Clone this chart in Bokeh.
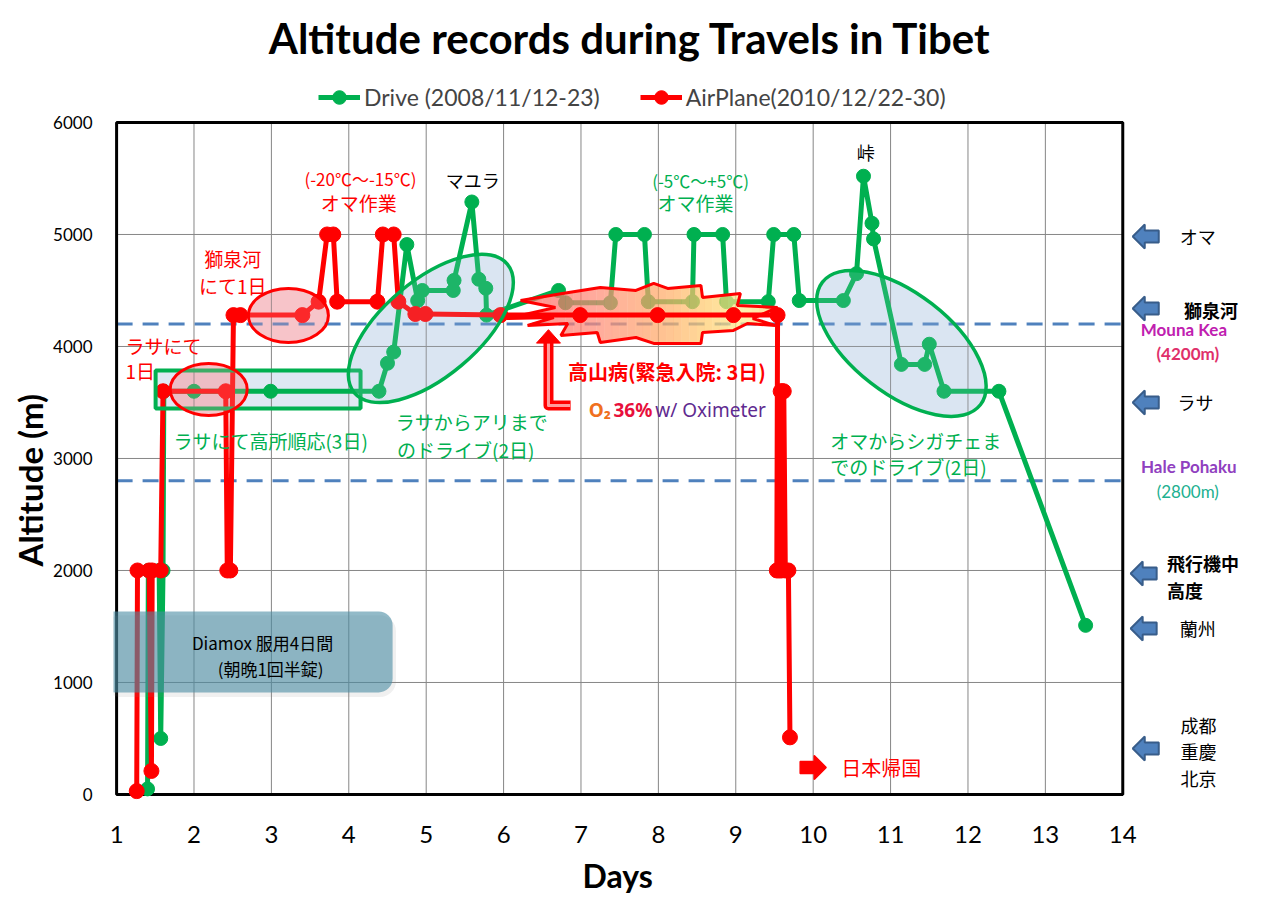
from bokeh.plotting import figure
from bokeh.models import Range1d, FixedTicker, Legend, LegendItem, Title
from bokeh.core.properties import value
from bokeh.embed import file_html
from bokeh.resources import INLINE

# ---------------- data ----------------
drive_day = [1.40, 1.41, 1.55, 1.57, 1.60, 1.61, 2.00, 2.99, 4.39, 4.50, 4.58, 4.75, 4.89, 4.95,
             5.35, 5.36, 5.59, 5.68, 5.77, 5.78, 6.71, 6.80, 7.38, 7.45, 7.82, 7.87, 8.44, 8.46,
             8.83, 8.88, 9.42, 9.49, 9.75, 9.82, 10.39, 10.56, 10.65, 10.76, 10.78, 11.14,
             11.44, 11.50, 11.69, 12.40, 13.52]
drive_alt = [50, 2000, 2000, 500, 2000, 3600, 3600, 3600, 3600, 3850, 3950, 4910, 4410, 4500,
             4500, 4590, 5290, 4600, 4520, 4280, 4500, 4390, 4390, 5000, 5000, 4400, 4400, 5000,
             5000, 4400, 4400, 5000, 5000, 4410, 4410, 4650, 5520, 5100, 4960, 3840,
             3840, 4020, 3600, 3600, 1510]

air_day = [1.26, 1.27, 1.42, 1.45, 1.46, 1.57, 1.60, 2.41, 2.43, 2.47, 2.51, 2.60, 3.40, 3.61,
           3.72, 3.80, 3.85, 4.37, 4.44, 4.58, 4.64, 4.86, 4.99, 5.96, 6.99, 7.99, 8.97, 9.54,
           9.53, 9.58, 9.56, 9.60, 9.59, 9.62, 9.64, 9.68, 9.70]
air_alt = [30, 2000, 2000, 210, 2000, 2000, 3600, 3600, 2000, 2000, 4280, 4280, 4280, 4400,
           5000, 5000, 4400, 4400, 5000, 5000, 4400, 4290, 4290, 4280, 4280, 4280, 4280, 4280,
           2000, 3600, 2000, 3600, 2000, 3600, 2000, 2000, 510]

x_ticks = list(range(1, 15))
y_ticks = [0, 1000, 2000, 3000, 4000, 5000, 6000]
ref_alts = [4200, 2800]

GREEN = "#00b050"
RED = "#ff0000"
JP = value("Noto Sans CJK JP")
LATO = value("Lato")

PX = 1 / 77.4      # days per screen pixel
PY = 1 / 0.112     # metres per screen pixel

p = figure(width=1254, height=903,
           x_range=Range1d(0.96, 15.702), y_range=Range1d(-152, 7089),
           output_backend="svg", toolbar_location=None,
           min_border_left=113, min_border_right=0, min_border_top=0, min_border_bottom=92)
p.outline_line_color = None
p.background_fill_color = "white"
p.xgrid.visible = False
p.ygrid.visible = False

# axes
p.xaxis.ticker = FixedTicker(ticks=x_ticks)
p.xaxis.bounds = (1, 14)
p.yaxis.ticker = FixedTicker(ticks=y_ticks)
p.yaxis.bounds = (0, 6000)
for ax in (p.xaxis, p.yaxis):
    ax.axis_line_color = None
    ax.major_tick_line_color = None
    ax.minor_tick_line_color = None
    ax.major_label_text_font = "Lato"
    ax.major_label_text_color = "black"
p.xaxis.major_label_text_font_size = "24px"
p.yaxis.major_label_text_font_size = "17px"
p.xaxis.major_label_standoff = 8
p.yaxis.major_label_standoff = 15

p.add_layout(Title(text="Altitude (m)", align="left", offset=245, standoff=2, text_font="Lato",
                   text_font_size="33px", text_font_style="bold", text_color="black"), "left")
p.add_layout(Title(text="Days", align="left", offset=469, standoff=16, text_font="Lato",
                   text_font_size="32px", text_font_style="bold", text_color="black"), "below")

# ---------------- background shapes (fills under the data) ----------------
p.quad(left=1.504, right=4.152, bottom=3446, top=3786, fill_color="#dce6f2", fill_alpha=0.9,
       line_color=None)
p.ellipse(x=[5.06, 11.14], y=[4161, 4027], width=[200, 200], height=[96, 100], angle=[0.70, -0.66],
          width_units="screen", height_units="screen",
          fill_color="#dce6f2", fill_alpha=0.9, line_color=None)
p.ellipse(x=[2.19, 3.22], y=[3616, 4277], width=[77, 80], height=[52, 54], angle=0,
          width_units="screen", height_units="screen",
          fill_color="#f4b0b8", fill_alpha=0.6, line_color=None)

# grid lines (inside the plot box only)
p.segment(x0=x_ticks[1:-1], x1=x_ticks[1:-1], y0=0, y1=6000, line_color="#868686", line_width=1)
p.segment(x0=1, x1=14, y0=y_ticks[1:-1], y1=y_ticks[1:-1], line_color="#868686", line_width=1)

# reference altitudes (Mauna Kea / Hale Pohaku)
p.segment(x0=1, x1=14, y0=ref_alts, y1=ref_alts, line_color="#4f81bd", line_width=3, line_dash="16 10")

# plot box
p.quad(left=1, right=14, bottom=0, top=6000, fill_alpha=0, line_color="black", line_width=3)

# drive series
gl = p.line(drive_day, drive_alt, line_color=GREEN, line_width=5)
gs = p.scatter(drive_day, drive_alt, size=14, marker="circle", color=GREEN)

# explosion (altitude sickness) with a left-to-right colour gradient
burst = [(6.04, 4250), (6.67, 4348), (6.22, 4411), (6.76, 4473), (7.25, 4527), (7.71, 4500),
         (7.94, 4563), (8.12, 4518), (8.55, 4545), (8.57, 4438), (9.06, 4473), (9.02, 4366),
         (9.54, 4348), (9.22, 4250), (9.51, 4188), (9.15, 4205), (8.97, 4143), (8.57, 4125),
         (8.55, 4027), (7.94, 4027), (7.71, 4080), (7.25, 4036), (7.21, 4125), (6.74, 4098),
         (6.83, 4205), (6.31, 4188), (6.65, 4259)]


def clip_half(poly, x0, keep_greater):
    out = []
    n = len(poly)
    for i in range(n):
        a, b = poly[i], poly[(i + 1) % n]
        ina = (a[0] >= x0) if keep_greater else (a[0] <= x0)
        inb = (b[0] >= x0) if keep_greater else (b[0] <= x0)
        if ina:
            out.append(a)
        if ina != inb:
            t = (x0 - a[0]) / (b[0] - a[0])
            out.append((x0, a[1] + t * (b[1] - a[1])))
    return out


stops = [(6.0, (255, 90, 90)), (7.2, (255, 140, 120)), (8.0, (255, 168, 104)),
         (8.7, (255, 208, 112)), (9.1, (255, 236, 144)), (9.6, (255, 200, 112))]


def grad(x):
    for (xa, ca), (xb, cb) in zip(stops[:-1], stops[1:]):
        if xa <= x <= xb:
            t = (x - xa) / (xb - xa)
            return "#%02x%02x%02x" % tuple(int(ca[k] + t * (cb[k] - ca[k])) for k in range(3))
    return "#%02x%02x%02x" % (stops[-1][1] if x > stops[-1][0] else stops[0][1])


nstrip = 36
bx0, bx1 = 6.0, 9.6
sxs, sys_, scol = [], [], []
for i in range(nstrip):
    a = bx0 + (bx1 - bx0) * i / nstrip
    b = bx0 + (bx1 - bx0) * (i + 1) / nstrip + 0.002
    piece = clip_half(clip_half(burst, a, True), b, False)
    if len(piece) >= 3:
        sxs.append([q[0] for q in piece])
        sys_.append([q[1] for q in piece])
        scol.append(grad((a + b) / 2))
p.patches(sxs, sys_, fill_color=scol, fill_alpha=0.72, line_color=None)
p.patch([b[0] for b in burst], [b[1] for b in burst], fill_alpha=0, line_color=RED, line_width=3)

# airplane series
rl = p.line(air_day, air_alt, line_color=RED, line_width=5)
rs = p.scatter(air_day, air_alt, size=15, marker="circle", color=RED)

legend = Legend(items=[LegendItem(label="Drive (2008/11/12-23)", renderers=[gl, gs]),
                       LegendItem(label="AirPlane(2010/12/22-30)", renderers=[rl, rs])],
                location=(205, 697), orientation="horizontal", glyph_width=42, glyph_height=34,
                label_text_font="Lato", label_text_font_size="23px", label_standoff=4,
                spacing=40, padding=0, margin=0, border_line_color=None,
                background_fill_alpha=0)
p.add_layout(legend)

# ---------------- shape outlines (over the data) ----------------
p.quad(left=1.504, right=4.152, bottom=3446, top=3786, fill_alpha=0,
       line_color=GREEN, line_width=4)
p.ellipse(x=[2.19, 3.22], y=[3616, 4277], width=[77, 80], height=[52, 54], angle=0,
          width_units="screen", height_units="screen",
          fill_color="#f4a0a8", fill_alpha=0.25, line_color=RED, line_width=3)
p.ellipse(x=[5.06, 11.14], y=[4161, 4027], width=[200, 200], height=[96, 100], angle=[0.70, -0.66],
          width_units="screen", height_units="screen",
          fill_color="#c5d9f1", fill_alpha=0.15, line_color=GREEN, line_width=3.5)

# bent arrow pointing up at the explosion
p.line([6.866, 6.58, 6.58], [3473, 3473, 4030], line_color=RED, line_width=10, line_join="round")
p.line([6.86, 6.58, 6.58], [3473, 3473, 4030], line_color="#ff9c9c", line_width=3, line_join="round")
p.patch([6.58 - 12 * PX, 6.58, 6.58 + 12 * PX], [4030, 4150, 4030], fill_color=RED, line_color=RED)

# Diamox box (soft shadow + box)
p.quad(left=0.84, right=4.61, bottom=870, top=1600, fill_color="#808080", fill_alpha=0.12,
       line_color=None, border_radius=16)
p.quad(left=0.80, right=4.566, bottom=911, top=1634, fill_color="#4a8ca4", fill_alpha=0.6,
       line_color=None, border_radius=14)


def block_arrow(cx, cy, d=1):
    pts = [(-13, 0), (-1, 12), (-1, 6), (13, 6), (13, -6), (-1, -6), (-1, -12)]
    return [cx + d * ox * PX for ox, _ in pts], [cy + oy * PY for _, oy in pts]


# right-hand blue arrows
arrow_pos = [(14.297, 4982), (14.297, 4339), (14.297, 3500), (14.27, 1973), (14.27, 1482), (14.297, 411)]
axs, ays = zip(*[block_arrow(cx, cy) for cx, cy in arrow_pos])
p.patches(list(axs), list(ays), fill_color="#4f81bd", line_color="#385d8a", line_width=2)

# red arrow to "日本帰国"
rx, ry = block_arrow(10.00, 241, d=-1)
p.patch(rx, ry, fill_color=RED, line_color=RED, line_width=1.5)

# ---------------- texts ----------------
def txt(x, y, s, color="black", size="19px", font=JP, align="center", style="normal"):
    p.text(x=[x], y=[y], text=[s], text_color=color, text_font=font, text_font_size=size,
           text_align=align, text_baseline="middle", text_font_style=style)


txt(7.64, 6750, "Altitude records during Travels in Tibet", size="42px", font=LATO, style="bold")

txt(2.50, 4786, "獅泉河", RED)
txt(2.50, 4545, "にて1日", RED)
txt(1.116, 4009, "ラサにて", RED, align="left")
txt(1.116, 3786, "1日", RED, align="left")
txt(4.15, 5500, "(-20℃～-15℃)", RED, size="17px")
txt(4.13, 5286, "オマ作業", RED)
txt(5.60, 5482, "マユラ", "black", size="18px")
txt(8.545, 5482, "(-5℃～+5℃)", GREEN, size="17px")
txt(8.48, 5286, "オマ作業", GREEN)
txt(10.68, 5732, "峠", "black", size="18px")
txt(8.11, 3777, "高山病(緊急入院: 3日)", RED, size="20px", style="bold")
txt(7.10, 3429, "O₂", "#f07020", size="19px", font=value("Noto Sans"), align="left", style="bold")
txt(7.42, 3429, "36%", "#e8103c", size="19px", font=value("Noto Sans"), align="left", style="bold")
txt(7.96, 3429, "w/ Oximeter", "#602a90", size="19px", font=value("Noto Sans"), align="left")
txt(2.99, 3161, "ラサにて高所順応(3日)", GREEN)
txt(5.59, 3330, "ラサからアリまで", GREEN)
txt(5.51, 3080, "のドライブ(2日)", GREEN)
txt(10.22, 3161, "オマからシガチェま", GREEN, align="left")
txt(10.22, 2929, "でのドライブ(2日)", GREEN, align="left")
txt(10.88, 241, "日本帰国", RED, size="20px")
txt(2.886, 1357, "Diamox 服用4日間", "black", size="17px")
txt(2.99, 1125, "(朝晩1回半錠)", "black", size="17px")

# right margin
txt(14.97, 4982, "オマ", size="18px")
txt(15.14, 4330, "獅泉河", size="18px", style="bold")
txt(14.94, 3500, "ラサ", size="18px")
txt(14.57, 2071, "飛行機中", size="18px", align="left", style="bold")
txt(14.57, 1830, "高度", size="18px", align="left", style="bold")
txt(14.97, 1482, "蘭州", size="18px")
txt(14.98, 616, "成都", size="18px")
txt(14.98, 384, "重慶", size="18px")
txt(14.98, 143, "北京", size="18px")
txt(14.79, 4152, "Mouna Kea", "#c020b0", size="17px", font=LATO, style="bold")
txt(14.84, 3938, "(4200m)", "#e0306a", size="17px", font=LATO, style="bold")
txt(14.853, 2929, "Hale Pohaku", "#9040c0", size="17px", font=LATO, style="bold")
txt(14.84, 2705, "(2800m)", "#20b090", size="17px", font=LATO)

open("out.html", "w").write(file_html(p, INLINE))
